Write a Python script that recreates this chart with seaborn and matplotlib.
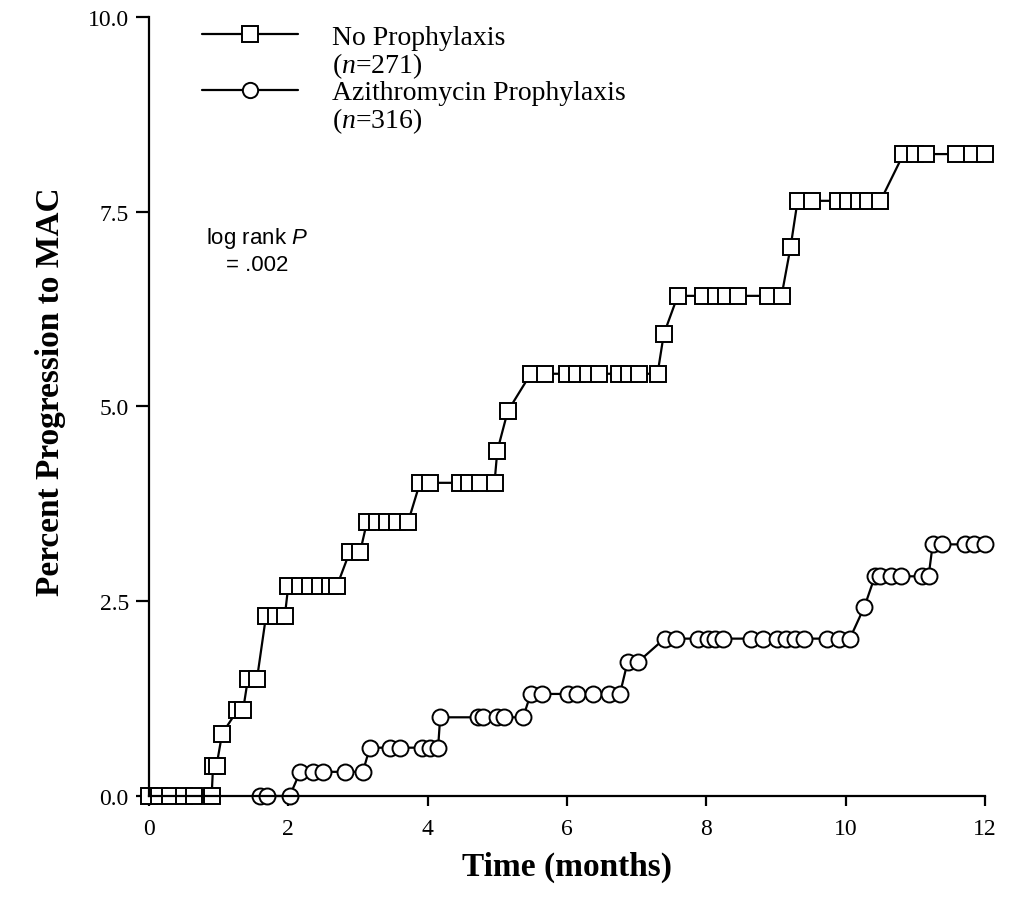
import pandas as pd
import matplotlib
matplotlib.use('Agg')
import matplotlib.pyplot as plt
import seaborn as sns
from matplotlib.lines import Line2D

sns.set_style('ticks')
plt.rcParams['font.family'] = ['Liberation Serif', 'DejaVu Serif']
plt.rcParams['mathtext.fontset'] = 'custom'
plt.rcParams['mathtext.rm'] = 'Liberation Serif'
plt.rcParams['mathtext.it'] = 'Liberation Serif:italic'
plt.rcParams['mathtext.sf'] = 'Liberation Sans:italic'
plt.rcParams['text.color'] = 'black'
plt.rcParams['axes.labelcolor'] = 'black'
plt.rcParams['xtick.color'] = 'black'
plt.rcParams['ytick.color'] = 'black'

# 데이터
no_time = [0.0, 0.15, 0.3, 0.5, 0.65, 0.9,
           0.92, 0.97,
           1.05,
           1.27, 1.35,
           1.42, 1.55,
           1.68, 1.83, 1.95,
           2.0, 2.17, 2.31, 2.45, 2.6, 2.7,
           2.88, 3.03,
           3.13, 3.27, 3.41, 3.56, 3.72,
           3.89, 4.03, 4.46, 4.6, 4.75, 4.96,
           5.0,
           5.15,
           5.48, 5.68, 6.0, 6.14, 6.3, 6.46, 6.74, 6.89, 7.04, 7.3,
           7.39,
           7.59, 7.95, 8.14, 8.28, 8.46, 8.88, 9.08,
           9.21,
           9.31, 9.51, 9.89, 10.03, 10.19, 10.32, 10.5,
           10.83, 10.99, 11.16, 11.58, 11.81, 12.0]
no_pct = [0.0, 0.0, 0.0, 0.0, 0.0, 0.0,
          0.39, 0.39,
          0.80,
          1.10, 1.10,
          1.50, 1.50,
          2.31, 2.31, 2.31,
          2.70, 2.70, 2.70, 2.70, 2.70, 2.70,
          3.13, 3.13,
          3.52, 3.52, 3.52, 3.52, 3.52,
          4.02, 4.02, 4.02, 4.02, 4.02, 4.02,
          4.43,
          4.94,
          5.42, 5.42, 5.42, 5.42, 5.42, 5.42, 5.42, 5.42, 5.42, 5.42,
          5.93,
          6.42, 6.42, 6.42, 6.42, 6.42, 6.42, 6.42,
          7.05,
          7.64, 7.64, 7.64, 7.64, 7.64, 7.64, 7.64,
          8.24, 8.24, 8.24, 8.24, 8.24, 8.24]

az_time = [1.59, 1.69, 2.02,
           2.17, 2.35, 2.5, 2.81, 3.07,
           3.17, 3.46, 3.6, 3.92, 4.03, 4.15,
           4.18, 4.72, 4.8, 5.0, 5.1, 5.37,
           5.48, 5.64, 6.01, 6.14, 6.38, 6.61, 6.76,
           6.87, 7.02,
           7.4, 7.56, 7.88, 8.02, 8.13, 8.24, 8.64, 8.82, 9.02, 9.14, 9.27, 9.4, 9.73, 9.9, 10.06,
           10.27,
           10.42, 10.5, 10.65, 10.8, 11.09, 11.19,
           11.25, 11.38, 11.71, 11.84, 12.0]
az_pct = [0.0, 0.0, 0.0,
          0.31, 0.31, 0.31, 0.31, 0.31,
          0.62, 0.62, 0.62, 0.62, 0.62, 0.62,
          1.01, 1.01, 1.01, 1.01, 1.01, 1.01,
          1.31, 1.31, 1.31, 1.31, 1.31, 1.31, 1.31,
          1.72, 1.72,
          2.02, 2.02, 2.02, 2.02, 2.02, 2.02, 2.02, 2.02, 2.02, 2.02, 2.02, 2.02, 2.02, 2.02, 2.02,
          2.43,
          2.82, 2.82, 2.82, 2.82, 2.82, 2.82,
          3.23, 3.23, 3.23, 3.23, 3.23]

groups = ['No Prophylaxis', 'Azithromycin Prophylaxis']
n_labels = ['($n$=271)', '($n$=316)']
y_ticks = [0, 2.5, 5.0, 7.5, 10.0]
x_ticks = [0, 2, 4, 6, 8, 10, 12]

df = pd.concat([
    pd.DataFrame({'time': no_time, 'pct': no_pct, 'group': groups[0]}),
    pd.DataFrame({'time': az_time, 'pct': az_pct, 'group': groups[1]}),
], ignore_index=True)

fig = plt.figure(figsize=(10.12, 9.03), dpi=100)
ax = fig.add_axes([0.1472, 0.1174, 0.8261, 0.8627])

sns.lineplot(data=df, x='time', y='pct', hue='group', style='group',
             markers={groups[0]: 's', groups[1]: 'o'}, dashes=False,
             palette={groups[0]: 'black', groups[1]: 'black'},
             estimator=None, sort=False, legend=False,
             markersize=11.5, markerfacecolor='white', markeredgecolor='black',
             markeredgewidth=1.4, linewidth=1.6, clip_on=False, ax=ax)

ax.set_xlim(0, 12)
ax.set_ylim(0, 10)
ax.set_xticks(x_ticks)
ax.set_yticks(y_ticks)
ax.set_yticklabels([f'{v:.1f}' for v in y_ticks])
ax.tick_params(axis='both', labelsize=17, width=1.6, color='black', labelcolor='black')
ax.tick_params(axis='x', length=7.5, pad=8)
ax.tick_params(axis='y', length=9.5, pad=5)
sns.despine(ax=ax)
for s in ['left', 'bottom']:
    ax.spines[s].set_linewidth(1.6)
    ax.spines[s].set_color('black')

ax.set_xlabel('Time (months)', fontsize=24, fontweight='bold')
ax.set_ylabel('Percent Progression to MAC', fontsize=24, fontweight='bold')
ax.xaxis.set_label_coords(0.5, -0.07)
ax.yaxis.set_label_coords(-0.099, 0.52)

# 범례
h_sq = Line2D([], [], color='black', lw=1.6, marker='s', ms=11, mfc='white', mec='black', mew=1.4)
h_ci = Line2D([], [], color='black', lw=1.6, marker='o', ms=11, mfc='white', mec='black', mew=1.4)
blank = Line2D([], [], linestyle='none')
ax.legend([h_sq, blank, h_ci, blank],
          [groups[0], n_labels[0], groups[1], n_labels[1]],
          loc='upper left', bbox_to_anchor=(0.0634, 0.990), frameon=False,
          fontsize=20, handlelength=3.45, handletextpad=1.22, labelspacing=0.0,
          borderpad=0, borderaxespad=0, labelcolor='black')

ax.text(1.557, 7.01, 'log rank $\\mathsf{P}$\n= .002', family=['Liberation Sans'],
        fontsize=16, ha='center', va='center', multialignment='center',
        linespacing=1.25, color='black')

fig.savefig('out.png', dpi=100)
